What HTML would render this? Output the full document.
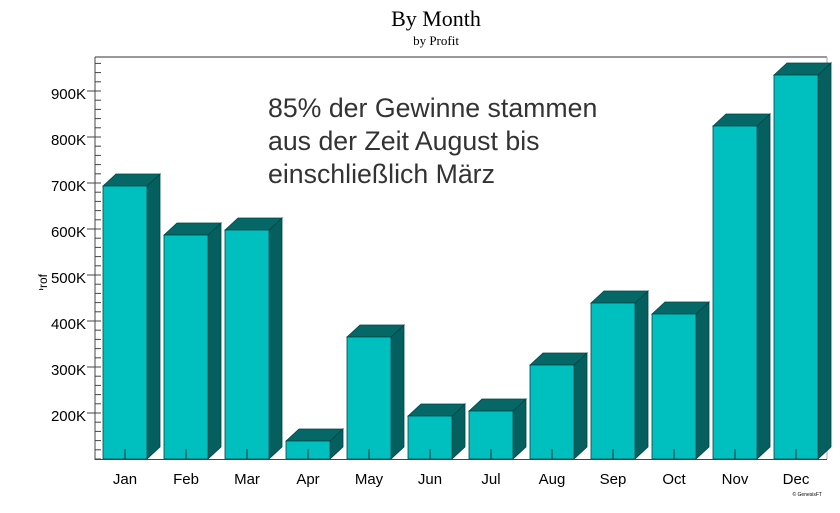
<!DOCTYPE html>
<html><head><style>body{margin:0;background:#fff}svg{display:block}</style></head><body>
<svg width="840" height="513" xmlns="http://www.w3.org/2000/svg" font-family="Liberation Sans, sans-serif">
<text x="436" y="26" text-anchor="middle" font-family="Liberation Serif, serif" font-size="22">By Month</text>
<text x="436" y="45" text-anchor="middle" font-family="Liberation Serif, serif" font-size="13">by Profit</text>
<line x1="95" y1="57" x2="827" y2="57" stroke="#999" stroke-width="2"/>
<line x1="827" y1="57" x2="827" y2="459" stroke="#aaa" stroke-width="1"/>
<g id="bars" stroke="#044" stroke-width="0.8">
</g>
<g font-size="15" text-anchor="end" fill="#000">
<text x="86" y="99">900K</text><text x="86" y="145">800K</text><text x="86" y="191">700K</text><text x="86" y="237">600K</text><text x="86" y="283">500K</text><text x="86" y="329">400K</text><text x="86" y="375">300K</text><text x="86" y="421">200K</text>
</g>
<svg x="38" y="274" width="10" height="16"><text transform="translate(9,8) rotate(-90)" font-size="12" text-anchor="middle">Profit</text></svg>
<g stroke="#444" stroke-width="1">
<line x1="95" y1="57" x2="95" y2="460"/>
<line x1="95" y1="459.5" x2="827" y2="459.5"/>
</g>
<text x="268" y="117" font-size="26.7" fill="#333">85% der Gewinne stammen</text>
<text x="268" y="150" font-size="26.7" fill="#333">aus der Zeit August bis</text>
<text x="268" y="183" font-size="26.7" fill="#333">einschließlich März</text>
<text x="822" y="496" font-size="5" text-anchor="end">© GenesisFT</text>
<script>
var ns="http://www.w3.org/2000/svg",svg=document.querySelector('svg');
var g=document.getElementById('bars');
function el(t,a,p){var e=document.createElementNS(ns,t);for(var k in a)e.setAttribute(k,a[k]);(p||svg).appendChild(e);return e;}
var tops=[186,235,230,441,337,416,411,365,303,314,126,75];
var names=["Jan","Feb","Mar","Apr","May","Jun","Jul","Aug","Sep","Oct","Nov","Dec"];
var B=459,W=44,D=13,H=12;
for(var i=0;i<12;i++){var x=103+i*61,t=tops[i];
el('polygon',{points:[x+W,B,x+W+D,B-H,x+W+D,t-H,x+W,t].join(' '),fill:'#055f5f'},g);
el('polygon',{points:[x,t,x+D,t-H,x+W+D,t-H,x+W,t].join(' '),fill:'#066767'},g);
el('rect',{x:x,y:t,width:W,height:B-t,fill:'#00bfbf'},g);
el('line',{x1:x+W/2,y1:B,x2:x+W/2,y2:B-10,stroke:'#333','stroke-width':1});
var tx=el('text',{x:x+W/2,y:484,'font-size':15,'text-anchor':'middle'});tx.textContent=names[i];}
for(var v=100;v<=980;v+=20){var y=459-(v-100)*0.46;if(y<57)break;
el('line',{x1:95,y1:y,x2:101,y2:y,stroke:'#444','stroke-width':1});
if(v%100==0&&v>=200)el('line',{x1:87,y1:y,x2:95,y2:y,stroke:'#444','stroke-width':1});}
</script>
</svg>
</body></html>
